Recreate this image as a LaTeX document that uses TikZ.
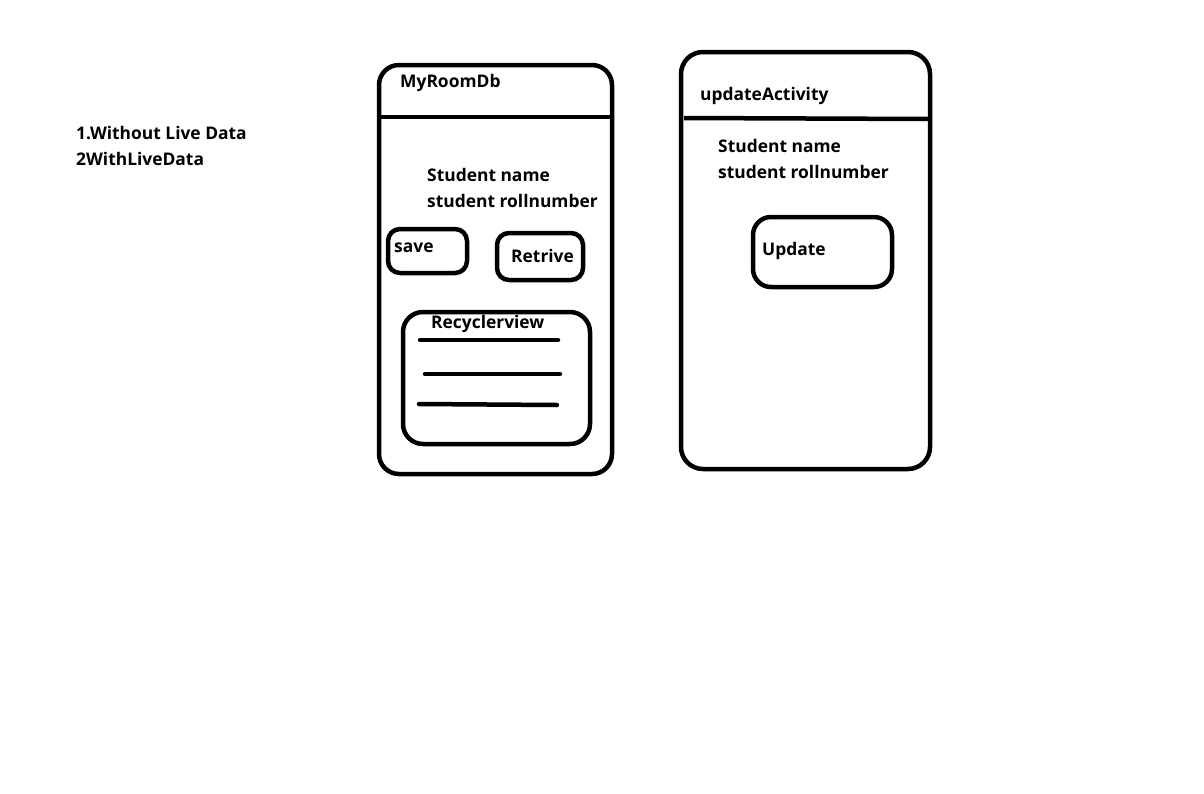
\documentclass[tikz,border=0pt]{standalone}
\usepackage{fontspec}
\setmainfont{Open Sans}
\begin{document}
\begin{tikzpicture}[x=1pt,y=-1pt,
  frame/.style={line width=4.5pt,rounded corners=20pt},
  box/.style={line width=4.5pt,rounded corners=12pt},
  rule/.style={line width=4.5pt,line cap=round},
  lbl/.style={anchor=west,inner sep=0pt,font=\fontsize{17.4}{20}\selectfont\bfseries}]
\useasboundingbox[fill=white] (0,0) rectangle (1204,793);
% left notes
\node[lbl] (n1) at (76,133) {1.Without Live Data};
\node[lbl] (n2) at (76,159) {2WithLiveData};
% left phone
\draw[frame] (379,65) rectangle (612,474);
\draw[rule,line cap=butt] (379,117) -- (612,117);
\node[lbl] (t1) at (400,83) {MyRoomDb};
\node[lbl] (s1) at (427,175) {Student name};
\node[lbl] (r1) at (427,201) {student rollnumber};
\draw[box] (388,229) rectangle (467,273);
\node[lbl] (save) at (394,248) {save};
\draw[box] (497,233) rectangle (583,280);
\node[lbl] (ret) at (511,256) {Retrive};
\draw[box,rounded corners=20pt] (403,312) rectangle (590,444);
\node[lbl] (rv) at (431,324) {Recyclerview};
\coordinate (a1) at (420,340); \coordinate (a2) at (558,340);
\coordinate (b1) at (425,374); \coordinate (b2) at (560,374);
\coordinate (c1) at (419,404); \coordinate (c2) at (557,405);
\draw[rule] (a1) -- (a2);
\draw[rule] (b1) -- (b2);
\draw[rule] (c1) -- (c2);
% right phone
\draw[frame,rounded corners=22pt] (681,52) rectangle (930,469);
\draw[rule,line cap=butt] (684,118) -- (930,119);
\node[lbl] (t2) at (700,96) {updateActivity};
\node[lbl] (s2) at (718,146) {Student name};
\node[lbl] (r2) at (718,172) {student rollnumber};
\draw[box,rounded corners=18pt] (753,217) rectangle (892,287);
\node[lbl] (up) at (762,251) {Update};
\end{tikzpicture}
\end{document}
